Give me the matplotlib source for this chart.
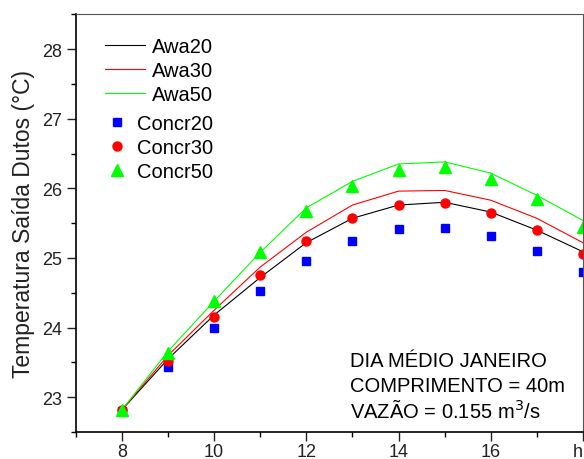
import matplotlib.pyplot as plt
from matplotlib.ticker import MultipleLocator

plt.rcParams['font.family'] = ['Liberation Sans', 'DejaVu Sans']

horas = [8, 9, 10, 11, 12, 13, 14, 15, 16, 17, 18]

# curvas do modelo (linhas)
awa20 = [22.82, 23.55, 24.18, 24.72, 25.22, 25.57, 25.76, 25.80, 25.66, 25.40, 25.09]
awa30 = [22.82, 23.60, 24.25, 24.87, 25.37, 25.76, 25.96, 25.97, 25.83, 25.57, 25.22]
awa50 = [22.82, 23.66, 24.38, 25.08, 25.72, 26.10, 26.35, 26.38, 26.22, 25.90, 25.54]

# valores medidos (marcadores)
concr20 = [22.80, 23.43, 24.00, 24.53, 24.96, 25.25, 25.42, 25.43, 25.32, 25.10, 24.80]
concr30 = [22.82, 23.52, 24.15, 24.76, 25.24, 25.57, 25.76, 25.79, 25.65, 25.40, 25.05]
concr50 = [22.82, 23.64, 24.38, 25.08, 25.68, 26.04, 26.27, 26.30, 26.14, 25.85, 25.45]

x_ticks = [8, 10, 12, 14, 16, 18]
x_labels = ['8', '10', '12', '14', '16', 'h']

info = ['DIA MÉDIO JANEIRO', 'COMPRIMENTO = 40m', 'VAZÃO = 0.155 m$^3$/s']

fig = plt.figure(figsize=(5.84, 4.6), dpi=100)
ax = fig.add_axes([0.130, 0.0587, 0.868, 0.908])

l1, = ax.plot(horas, awa20, color='black', lw=0.8, label='Awa20')
l2, = ax.plot(horas, awa30, color='#ff0000', lw=0.8, label='Awa30')
l3, = ax.plot(horas, awa50, color='#00ff00', lw=0.8, label='Awa50')
m1, = ax.plot(horas, concr20, 's', color='#0000ff', ms=6, ls='none', label='Concr20', clip_on=False)
m2, = ax.plot(horas, concr30, 'o', color='#ff0000', ms=6.5, ls='none', label='Concr30', clip_on=False)
m3, = ax.plot(horas, concr50, '^', color='#00ff00', ms=8.5, ls='none', label='Concr50', clip_on=False)

ax.set_xlim(7, 18)
ax.set_ylim(22.5, 28.5)
ax.set_xticks(x_ticks)
ax.set_xticklabels(x_labels)
ax.get_xticklabels()[-1].set_ha('right')
ax.xaxis.set_minor_locator(MultipleLocator(1))
ax.yaxis.set_major_locator(MultipleLocator(1))
ax.yaxis.set_minor_locator(MultipleLocator(0.5))
ax.tick_params(which='major', direction='out', length=6.5, width=1, labelsize=13, colors='#222222')
ax.tick_params(axis='x', which='major', pad=1.5)
ax.tick_params(which='minor', direction='out', length=3.5, width=1)
ax.tick_params(top=False, right=False)
ax.spines['left'].set_linewidth(1.2)
ax.spines['bottom'].set_linewidth(1.2)
ax.spines['top'].set_color('#555555')
ax.spines['right'].set_color('#555555')

ax.set_ylabel('Temperatura Saída Dutos (°C)', fontsize=16.5, color='#222222', labelpad=5)

leg1 = ax.legend(handles=[l1, l2, l3], loc='upper left', bbox_to_anchor=(0.041, 0.965),
                 frameon=False, fontsize=14.5, handlelength=2.0, handletextpad=0.35,
                 labelspacing=0.25, borderaxespad=0)
ax.add_artist(leg1)
ax.legend(handles=[m1, m2, m3], loc='upper left', bbox_to_anchor=(0.045, 0.781),
          frameon=False, fontsize=14.5, handlelength=1.0, handletextpad=0.5,
          labelspacing=0.25, borderaxespad=0)

for i, t in enumerate(info):
    ax.text(0.54, 0.17 - i * 0.0575, t, transform=ax.transAxes, fontsize=14.5, va='center')

fig.savefig('out.png', dpi=100)
